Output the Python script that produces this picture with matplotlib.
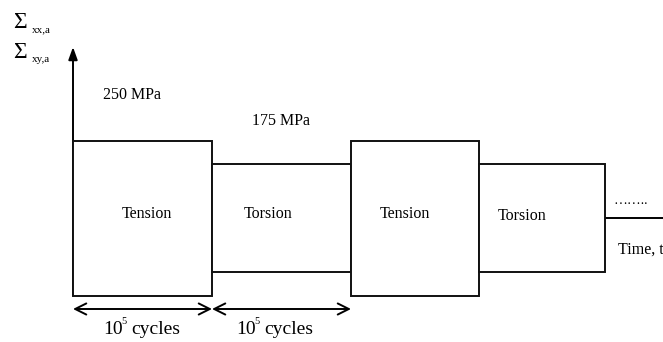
import matplotlib
matplotlib.use("Agg")
import matplotlib.pyplot as plt
import numpy as np

# ---- data ----
block_labels = ["Tension", "Torsion", "Tension", "Torsion"]
block_amplitudes = [250, 175, 250, 175]          # MPa (stress amplitude)
block_lengths = [1.0, 1.0, 0.92, 0.91]           # in units of 10^5 cycles (as drawn)
amplitude_labels = ["250 MPa", "175 MPa"]
cycle_base, cycle_exp, cycle_word = "10", "5", "cycles"

# ---- figure ----
W, H = 663, 342
fig = plt.figure(figsize=(W / 100, H / 100), dpi=100)
ax = fig.add_axes([0, 0, 1, 1])
plt.rcParams['font.family'] = ['Liberation Serif', 'DejaVu Serif']

# pixel -> data helpers (x unit: 10^5 cycles, y unit: MPa)
X0, XS = 73.0, 139.0
Y0, YS = 218.0, 77.5 / 250.0
def dx(px):
    return (px - X0) / XS
def dy(py):
    return (Y0 - py) / YS

ax.set_xlim(dx(0), dx(W))
ax.set_ylim(dy(H), dy(0))
ax.axis("off")

font = "Liberation Serif"
lw = 1.4
ink = "#111111"

# blocks
lefts = np.concatenate([[0], np.cumsum(block_lengths)[:-1]])
amps = np.array(block_amplitudes)
ax.bar(lefts, 2 * amps, bottom=-amps, width=block_lengths, align="edge",
       facecolor="white", edgecolor=ink, linewidth=lw, zorder=2)
label_px = [147, 268, 405, 522]
label_py = [214, 214, 214, 216]
for lab, px, py in zip(block_labels, label_px, label_py):
    ax.text(dx(px), dy(py), lab, ha="center", va="center", fontsize=11.5,
            family=font, zorder=3)

# vertical axis with arrow
ax.annotate("", xy=(0, dy(47)), xytext=(0, -block_amplitudes[0]),
            annotation_clip=False,
            arrowprops=dict(arrowstyle="-|>,head_length=0.75,head_width=0.27",
                            color="black", lw=lw, shrinkA=0, shrinkB=0), zorder=1)

# time axis after blocks
end = lefts[-1] + block_lengths[-1]
ax.annotate("", xy=(dx(685), 0), xytext=(end, 0), annotation_clip=False,
            arrowprops=dict(arrowstyle="-|>,head_length=0.75,head_width=0.27",
                            color="black", lw=lw, shrinkA=0, shrinkB=0), zorder=1)
ax.text(dx(614), dy(201), "……..", ha="left", va="center", fontsize=10, family=font)
ax.text(dx(618), dy(250), "Time, t", ha="left", va="center", fontsize=11.5,
        family=font, clip_on=False)

# amplitude labels
ax.text(dx(132), dy(95), amplitude_labels[0], ha="center", va="center",
        fontsize=11.5, family=font)
ax.text(dx(281), dy(121), amplitude_labels[1], ha="center", va="center",
        fontsize=11.5, family=font)

# axis labels
ax.text(dx(13), dy(22), "Σ", ha="left", va="center", fontsize=17, family=font)
ax.text(dx(32), dy(30), "xx,a", ha="left", va="center", fontsize=8, family=font)
ax.text(dx(13), dy(52), "Σ", ha="left", va="center", fontsize=17, family=font)
ax.text(dx(32), dy(59), "xy,a", ha="left", va="center", fontsize=8, family=font)

# cycle arrows
for i in range(2):
    a, b = lefts[i], lefts[i] + block_lengths[i]
    ax.annotate("", xy=(b, dy(309)), xytext=(a, dy(309)),
                arrowprops=dict(arrowstyle="<->,head_length=0.8,head_width=0.4",
                                color="black", lw=lw, shrinkA=0, shrinkB=0))
for x0 in (103, 236):
    ax.text(dx(x0), dy(329), cycle_base, ha="left", va="center", fontsize=14, family=font)
    ax.text(dx(x0 + 18.5), dy(322), cycle_exp, ha="left", va="center", fontsize=7.5, family=font)
    ax.text(dx(x0 + 28), dy(329), cycle_word, ha="left", va="center", fontsize=14, family=font)

fig.savefig("out.png", dpi=100)
